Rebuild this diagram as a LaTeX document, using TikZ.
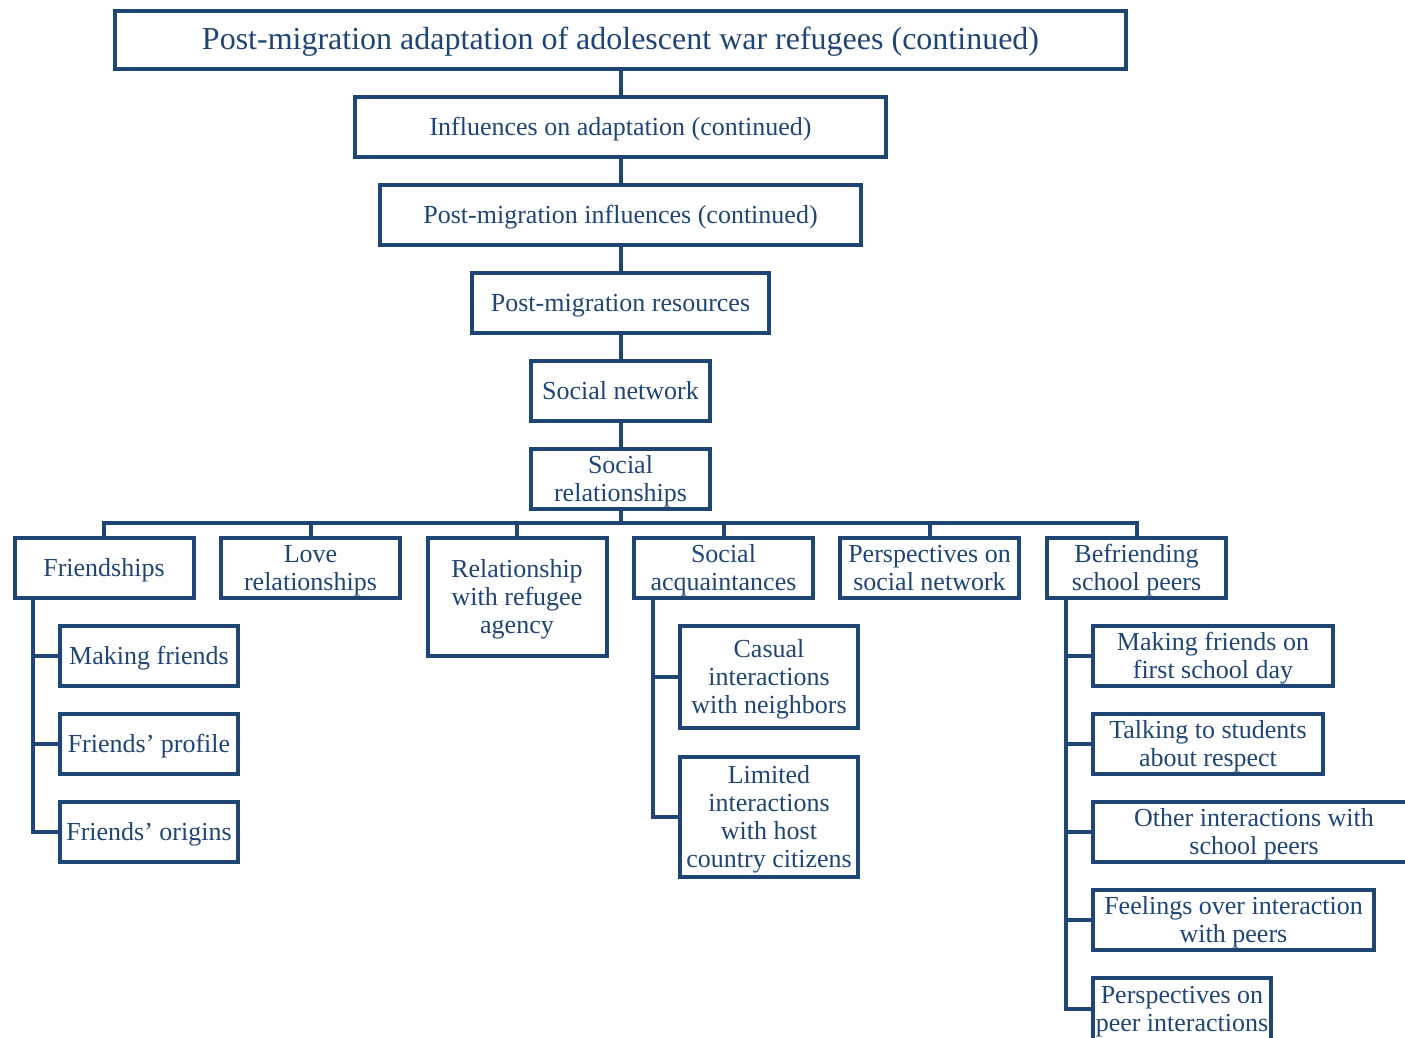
\documentclass[tikz,border=0pt]{standalone}
\usepackage{fontspec}
\setmainfont{Liberation Serif}
\definecolor{navy}{HTML}{1F4575}
% box label: centred lines, drawn a little lower while keeping the box extents
\newsavebox\lblbox
\newcommand\boxtext[1]{\sbox\lblbox{\begin{tabular}{@{}c@{}}#1\end{tabular}}%
  \raisebox{-3pt}[\ht\lblbox][\dp\lblbox]{\usebox\lblbox}}
\begin{document}
\begin{tikzpicture}[x=1pt,y=-1pt,
  box/.style={draw=navy, line width=4pt, text=navy, inner sep=0pt,
              font=\fontsize{26}{28}\selectfont, minimum height=60pt},
  link/.style={draw=navy, line width=4pt}]
\useasboundingbox (0,0) rectangle (1405,1037);
\clip (0,0) rectangle (1405,1037);

% main chain
\node[box, minimum width=1011pt, minimum height=58pt, font=\fontsize{32}{34}\selectfont] (title) at (620.5,40)
  {\boxtext{Post-migration adaptation of adolescent war refugees (continued)}};
\node[box, minimum width=531pt] (infl) at (620.5,127) {\boxtext{Influences on adaptation (continued)}};
\node[box, minimum width=481pt] (pmi) at (620.5,215) {\boxtext{Post-migration influences (continued)}};
\node[box, minimum width=297pt] (res) at (620.5,303) {\boxtext{Post-migration resources}};
\node[box, minimum width=179pt] (net) at (620.5,391) {\boxtext{Social network}};
\node[box, minimum width=179pt] (rel) at (620.5,479) {\boxtext{Social\\relationships}};

\draw[link] (title) -- (infl);
\draw[link] (infl) -- (pmi);
\draw[link] (pmi) -- (res);
\draw[link] (res) -- (net);
\draw[link] (net) -- (rel);

% second level
\node[box, minimum width=179pt] (fr) at (104,568) {\boxtext{Friendships}};
\node[box, minimum width=179pt] (love) at (310.5,568) {\boxtext{Love\\relationships}};
\node[box, minimum width=179pt, minimum height=118pt] (agency) at (517,597) {\boxtext{Relationship\\with refugee\\agency}};
\node[box, minimum width=179pt] (acq) at (723.5,568) {\boxtext{Social\\acquaintances}};
\node[box, minimum width=179pt] (persp) at (929.5,568) {\boxtext{Perspectives on\\social network}};
\node[box, minimum width=179pt] (bef) at (1136.5,568) {\boxtext{Befriending\\school peers}};

\coordinate (bus) at (0,523);
\draw[link] (rel.south) -- (rel.south |- bus);
\draw[link] (fr.north) -- (fr.north |- bus) -- (bef.north |- bus) -- (bef.north);
\draw[link] (love.north) -- (love.north |- bus);
\draw[link] (agency.north) -- (agency.north |- bus);
\draw[link] (acq.north) -- (acq.north |- bus);
\draw[link] (persp.north) -- (persp.north |- bus);

% friendships
\node[box, minimum width=178pt] (mf) at (149,656) {\boxtext{Making friends}};
\node[box, minimum width=178pt] (fp) at (149,744) {\boxtext{Friends’ profile}};
\node[box, minimum width=178pt] (fo) at (149,832) {\boxtext{Friends’ origins}};
\coordinate (frT) at (33,600);
\draw[link] (frT) |- (mf.west);
\draw[link] (frT) |- (fp.west);
\draw[link] (frT) |- (fo.west);

% social acquaintances
\node[box, minimum width=178pt, minimum height=102pt] (cas) at (769,677) {\boxtext{Casual\\interactions\\with neighbors}};
\node[box, minimum width=178pt, minimum height=120pt] (lim) at (769,817) {\boxtext{Limited\\interactions\\with host\\country citizens}};
\coordinate (acqT) at (653,600);
\draw[link] (acqT) |- (cas.west);
\draw[link] (acqT) |- (lim.west);

% befriending school peers
\node[box, minimum width=240pt] (first) at (1213,656) {\boxtext{Making friends on\\first school day}};
\node[box, minimum width=230pt] (talk) at (1208,744) {\boxtext{Talking to students\\about respect}};
\node[box, minimum width=322pt] (other) at (1254,832) {\boxtext{Other interactions with\\school peers}};
\node[box, minimum width=281pt] (feel) at (1233.5,920) {\boxtext{Feelings over interaction\\with peers}};
\node[box, minimum width=178pt, minimum height=62pt] (peer) at (1182,1009) {\boxtext{Perspectives on\\peer interactions}};
\coordinate (befT) at (1066,600);
\draw[link] (befT) |- (first.west);
\draw[link] (befT) |- (talk.west);
\draw[link] (befT) |- (other.west);
\draw[link] (befT) |- (feel.west);
\draw[link] (befT) |- (peer.west);
\end{tikzpicture}
\end{document}
